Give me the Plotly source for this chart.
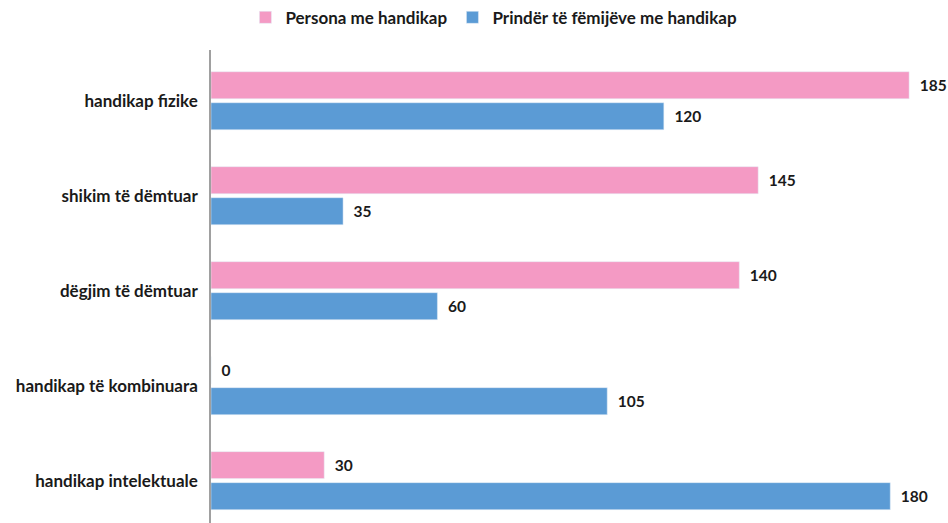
import plotly.graph_objects as go

categories = ["handikap fizike", "shikim të dëmtuar", "dëgjim të dëmtuar",
              "handikap të kombinuara", "handikap intelektuale"]
persona = [185, 145, 140, 0, 30]
prinder = [120, 35, 60, 105, 180]
series_names = ["Persona me handikap", "Prindër të fëmijëve me handikap"]

pos = list(range(len(categories)))
FAM = "Lato"
bold = dict(family=FAM, size=17, color="#1a1a1a", weight="bold")
val_font = dict(family=FAM, size=15.5, color="#1a1a1a", weight="bold")

fig = go.Figure()
fig.add_trace(go.Bar(
    y=pos, x=persona, orientation="h", name=series_names[0],
    marker=dict(color="#F49AC4"),
    text=persona, texttemplate="\u00a0\u00a0%{x}", textposition="outside",
    textfont=val_font, cliponaxis=False, constraintext="none",
))
fig.add_trace(go.Bar(
    y=pos, x=prinder, orientation="h", name=series_names[1],
    marker=dict(color="#5B9BD5"),
    text=prinder, texttemplate="\u00a0\u00a0%{x}", textposition="outside",
    textfont=val_font, cliponaxis=False, constraintext="none",
))

fig.update_layout(
    width=948, height=523,
    margin=dict(l=211, r=0, t=50, b=0, autoexpand=False),
    plot_bgcolor="white", paper_bgcolor="white",
    barmode="group", bargap=0.347, bargroupgap=0.13,
    font=bold,
    showlegend=True,
    legend=dict(orientation="h", xref="container", yref="container",
                x=0.521, xanchor="center", y=0.966, yanchor="middle",
                font=bold, itemwidth=30, tracegroupgap=0),
    xaxis=dict(range=[0, 195.3], showticklabels=False, showgrid=False,
               zeroline=False, showline=False, automargin=False),
    yaxis=dict(tickmode="array", tickvals=pos, ticktext=categories,
               range=[4.446, -0.534], showgrid=False, zeroline=False,
               showline=True, linecolor="#A0A0A0", linewidth=1.5,
               ticks="", ticklabelstandoff=8, automargin=False,
               tickfont=bold),
)

fig.write_html("out.html",
               config={"displayModeBar": False},
               post_script="document.body.style.margin='0';"
                           "document.documentElement.style.overflow='hidden';")
